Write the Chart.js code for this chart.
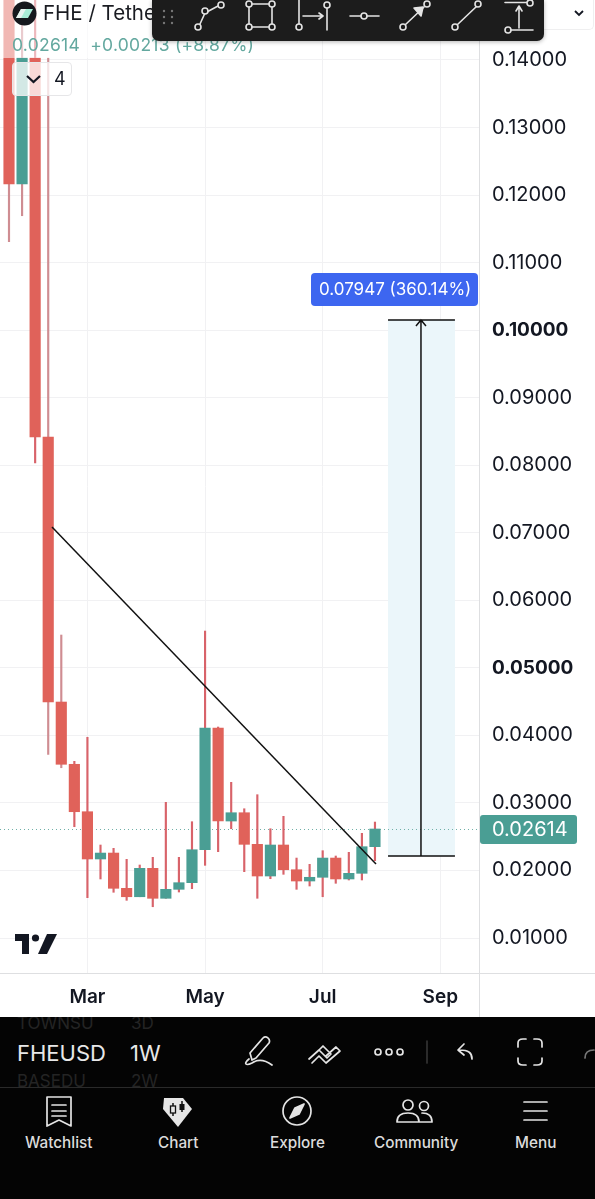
<!DOCTYPE html>
<html>
<head>
<meta charset="utf-8">
<script src="https://cdn.jsdelivr.net/npm/chart.js@4"></script>
<style>
html, body { margin: 0; padding: 0; background: #fff; font-family: Inter, sans-serif; overflow: hidden; }
#tela { position: relative; width: 595px; height: 1199px; overflow: hidden; }
#myChart { position: absolute; left: 0; top: 0; }
.box { position: absolute; }
.txt { position: absolute; white-space: nowrap; line-height: 1; }
svg { position: absolute; left: 0; top: 0; }
.ic { fill: none; stroke: #e4e4e4; stroke-width: 2; stroke-linecap: round; stroke-linejoin: round; }
</style>
</head>
<body>
<div id="tela">
  <canvas id="myChart" width="595" height="1017"></canvas>

  <!-- linhas dos eixos -->
  <div class="box" style="left:0;top:973px;width:595px;height:1px;background:#dedfe1"></div>
  <div class="box" style="left:479px;top:973px;width:1px;height:44px;background:#dedfe1"></div>

  <!-- legenda por cima do grafico -->
  <div class="box" style="left:0;top:0;width:152px;height:58px;background:rgba(255,255,255,.55)"></div>
  <div class="box" style="left:12px;top:62px;width:60px;height:34px;background:rgba(255,255,255,.76);border:1px solid #e6e6e8;border-radius:4px;box-sizing:border-box"></div>
  <div class="txt" style="left:43px;top:3px;font-size:20.500px;color:#1a1c22">FHE / Tether</div>
  <div class="txt" style="left:12px;top:36px;font-size:17.500px;letter-spacing:.25px;color:#63a89f">0.02614&nbsp; +0.00213 (+8.87%)</div>
  <div class="txt" style="left:54px;top:70px;font-size:18px;color:#131722">4</div>

  <div class="box" style="left:540px;top:0;width:54px;height:30px;border:1px solid #efeff0;border-top:0;border-left:0;border-radius:0 0 5px 0;box-sizing:border-box"></div>
  <div class="box" style="left:152px;top:0;width:392px;height:41px;background:#1c1c1c;border-radius:0 0 7px 7px;box-shadow:0 1px 4px rgba(0,0,0,.3)"></div>

  <svg width="595" height="1199">
    <!-- logo -->
    <circle cx="24.500" cy="13.500" r="12" fill="#15181d"/>
    <path d="M16 18 L21 9 H33 L28 18 Z" fill="#a8ecd6"/>
    <path d="M16 18 L21 9 H26 L21 18 Z" fill="#e8f3f0"/>
    <!-- seta da legenda -->
    <path d="M27 76 L33.500 82 L40 76" fill="none" stroke="#131722" stroke-width="2.200"/>
    <path d="M578 11 L582 15 L586 11" transform="translate(-3,0)" fill="none" stroke="#131722" stroke-width="1.800"/>
    <!-- barra de desenho -->
    <g fill="#777"><circle cx="164" cy="11" r="1.200"/><circle cx="172" cy="11" r="1.200"/><circle cx="164" cy="17" r="1.200"/><circle cx="172" cy="17" r="1.200"/><circle cx="164" cy="23" r="1.200"/><circle cx="172" cy="23" r="1.200"/></g>
    <g class="ic" style="stroke-width:1.600">
      <path d="M200 24 L205 13 L218 6"/><circle cx="198" cy="27" r="3" fill="#1c1c1c"/><circle cx="205" cy="11" r="3" fill="#1c1c1c"/><circle cx="221" cy="5" r="3" fill="#1c1c1c"/>
      <rect x="249" y="4" width="23" height="23"/><circle cx="249" cy="4" r="3" fill="#1c1c1c"/><circle cx="272" cy="4" r="3" fill="#1c1c1c"/><circle cx="249" cy="27" r="3" fill="#1c1c1c"/><circle cx="272" cy="27" r="3" fill="#1c1c1c"/>
      <path d="M299 0 V24 M327 8 V30 M303 16 H323 M319 13 L323 16 L319 19"/><circle cx="299" cy="27" r="3" fill="#1c1c1c"/><circle cx="327" cy="5" r="3" fill="#1c1c1c"/>
      <path d="M350 16 H379"/><circle cx="364" cy="16" r="3" fill="#1c1c1c"/>
      <path d="M405 25 L424 7"/><path d="M414 8 L423 7 L421 16 Z" fill="#e4e4e4"/><circle cx="403" cy="27" r="3" fill="#1c1c1c"/><circle cx="427" cy="4" r="3" fill="#1c1c1c"/>
      <path d="M457 25 L477 6"/><circle cx="455" cy="27" r="3" fill="#1c1c1c"/><circle cx="478" cy="4" r="3" fill="#1c1c1c"/>
      <path d="M505 2.500 H528 M510 30 H533 M519 28 V7 M516 11 L519 6 L522 11"/><circle cx="530" cy="3" r="3" fill="#1c1c1c"/><circle cx="508" cy="30" r="3" fill="#1c1c1c"/>
    </g>
    <!-- logo tradingview -->
    <path d="M15 934 H29 V954 H22 V941 H15 Z" fill="#131722"/>
    <circle cx="35.500" cy="938" r="3.600" fill="#131722"/>
    <path d="M47 934 H57 L47 954 H38 Z" fill="#131722"/>
  </svg>

  <!-- painel de baixo -->
  <div class="box" style="left:0;top:1017px;width:595px;height:182px;background:#040404"></div>
  <div class="box" style="left:0;top:1087px;width:595px;height:1px;background:#2a2a2a"></div>
  <div class="txt" style="left:17px;top:1015px;font-size:17px;color:#242424;clip-path:inset(2px 0 0 0)">TOWNSU</div>
  <div class="txt" style="left:131px;top:1015px;font-size:17px;color:#242424;clip-path:inset(2px 0 0 0)">3D</div>
  <div class="txt" style="left:17px;top:1042px;font-size:22px;color:#e8e8e8">FHEUSD</div>
  <div class="txt" style="left:130px;top:1042px;font-size:22px;color:#e8e8e8">1W</div>
  <div class="txt" style="left:17px;top:1073px;font-size:17px;color:#242424">BASEDU</div>
  <div class="txt" style="left:131px;top:1073px;font-size:17px;color:#242424">2W</div>

  <svg width="595" height="1199">
    <g class="ic" style="stroke-width:1.700">
      <!-- caneta -->
      <path d="M252 1060 L250 1053 L263 1038 C266 1035 271 1039 269 1043 L256 1058 Z M249 1059 C243 1064 246 1066 252 1063 C258 1059 265 1060 272 1065"/>
      <!-- linhas -->
      <path d="M309 1059 L319 1050 L327 1058 L331 1054 L323 1046 L319 1050 M312 1063 L319 1056 L326 1063 L340 1051 L336 1047 L326 1056"/>
      <circle cx="378" cy="1052" r="3"/><circle cx="389" cy="1052" r="3"/><circle cx="400" cy="1052" r="3"/>
      <path d="M427 1041 V1063" stroke="#333"/>
      <path d="M472 1059 C472 1053 469 1050 459 1050 M464 1044 L458 1050 L464 1055"/>
      <path d="M518 1047 V1043 C518 1040 520 1039 523 1039 H526 M534 1039 H537 C540 1039 542 1040 542 1043 V1047 M542 1058 V1061 C542 1064 540 1065 537 1065 H534 M526 1065 H523 C520 1065 518 1064 518 1061 V1058" />
      <path d="M585 1058 C585 1053 588 1050 594 1050" stroke="#777"/>
      <!-- watchlist -->
      <path d="M47 1097 H71 V1126 L59 1120 L47 1126 Z M52 1105 H66 M52 1111 H66 M52 1116 H66"/>
      <!-- explore -->
      <circle cx="297" cy="1111" r="14"/>
      <path d="M304 1104 L299 1114 L290 1118 L295 1108 Z" fill="#e4e4e4"/>
      <!-- community -->
      <circle cx="408" cy="1105" r="5"/><circle cx="424" cy="1106" r="4.500"/>
      <path d="M397 1122 C397 1115 402 1113 408 1113 C414 1113 419 1115 419 1122 Z M422 1113 C428 1113 432 1115 432 1122 H419"/>
      <!-- menu -->
      <path d="M524 1102 H547 M524 1111 H547 M524 1120 H547"/>
    </g>
    <!-- chart -->
    <path d="M164 1098 H183 L192 1109 L178 1127 L163 1109 Z" fill="#e6e6e6"/>
    <path d="M173 1103 V1116 M182 1101 V1112" stroke="#111" stroke-width="1.500"/>
    <rect x="170.500" y="1106" width="5" height="7" fill="#e6e6e6" stroke="#111" stroke-width="1.300"/>
    <rect x="179.500" y="1104" width="5" height="6" fill="#111"/>
  </svg>

  <div class="txt" style="left:25px;top:1135px;font-size:15.300px;font-weight:500;color:#dcdcdc">Watchlist</div>
  <div class="txt" style="left:158px;top:1135px;font-size:15.300px;font-weight:500;color:#dcdcdc">Chart</div>
  <div class="txt" style="left:270px;top:1135px;font-size:15.300px;font-weight:500;color:#dcdcdc">Explore</div>
  <div class="txt" style="left:374px;top:1135px;font-size:15.300px;font-weight:500;color:#dcdcdc">Community</div>
  <div class="txt" style="left:515px;top:1135px;font-size:15.300px;font-weight:500;color:#dcdcdc">Menu</div>
</div>

<script>
// candles semanais
const semanas = [0, 1, 2, 3, 4, 5, 6, 7, 8, 9, 10, 11, 12, 13, 14, 15, 16, 17, 18, 19, 20, 21, 22, 23, 24, 25, 26, 27, 28];
const abertura = [0.15500, 0.12164, 0.14029, 0.08418, 0.04494, 0.03572, 0.02870, 0.02170, 0.02258, 0.01736, 0.01611, 0.02032, 0.01588, 0.01721, 0.01819, 0.02307, 0.04109, 0.02732, 0.02855, 0.02387, 0.01918, 0.02377, 0.02011, 0.01844, 0.01899, 0.02184, 0.01874, 0.01958, 0.02352];
const fechamento = [0.12164, 0.14029, 0.08418, 0.04494, 0.03572, 0.02870, 0.02170, 0.02258, 0.01736, 0.01611, 0.02032, 0.01588, 0.01721, 0.01819, 0.02307, 0.04109, 0.02732, 0.02855, 0.02387, 0.01918, 0.02377, 0.02011, 0.01844, 0.01899, 0.02184, 0.01874, 0.01958, 0.02352, 0.02614];
const maximas = [0.16000, 0.14518, 0.15000, 0.14029, 0.05486, 0.03616, 0.03972, 0.02377, 0.02328, 0.02165, 0.02081, 0.02195, 0.03009, 0.02195, 0.02722, 0.05545, 0.04124, 0.03305, 0.02914, 0.03122, 0.02618, 0.02802, 0.02184, 0.02091, 0.02293, 0.02214, 0.02269, 0.02550, 0.02717];
const minimas = [0.11309, 0.11694, 0.08033, 0.03720, 0.03521, 0.02648, 0.01597, 0.01874, 0.01677, 0.01558, 0.01611, 0.01463, 0.01588, 0.01681, 0.01730, 0.02076, 0.02278, 0.02618, 0.01982, 0.01588, 0.01878, 0.01943, 0.01721, 0.01770, 0.01611, 0.01810, 0.01859, 0.01859, 0.02145];

const precosEixo = [0.01, 0.02, 0.03, 0.04, 0.05, 0.06, 0.07, 0.08, 0.09, 0.10, 0.11, 0.12, 0.13, 0.14];
const precosNegrito = [0.05, 0.10];
const mesesPos = [6, 15, 24, 33];
const mesesNomes = ['Mar', 'May', 'Jul', 'Sep'];

// linha de tendencia e ferramenta de medida
const tendenciaX = [3.29, 28.08];
const tendenciaY = [0.07085, 0.02096];
const medidaX = [29.0, 31.52, 34.12];
const medidaY = [0.02214, 0.10150];
const precoAtual = 0.02614;
const textoMedida = '0.07947 (360.14%)';

const VERMELHO = '#e0625a';
const VERDE = '#4a9e94';
const PAVIO = '#d8636a';
const PAVIO_CLARO = '#cf8d92';
const pavioClaro = [0, 1, 3, 4];

const ferramentas = {
    id: 'ferramentas',
    beforeDatasetsDraw(chart) {
        const { ctx, scales: { x, y }, chartArea } = chart;
        ctx.save();
        // caixa da medida
        ctx.fillStyle = '#ebf6fa';
        ctx.fillRect(x.getPixelForValue(medidaX[0]), y.getPixelForValue(medidaY[1]),
            x.getPixelForValue(medidaX[2]) - x.getPixelForValue(medidaX[0]),
            y.getPixelForValue(medidaY[0]) - y.getPixelForValue(medidaY[1]));
        // linha pontilhada do preco
        ctx.strokeStyle = '#6fb0a8';
        ctx.lineWidth = 1;
        ctx.setLineDash([1, 3]);
        const yp = Math.round(y.getPixelForValue(precoAtual)) + 0.5;
        ctx.beginPath();
        ctx.moveTo(chartArea.left, yp);
        ctx.lineTo(chartArea.right, yp);
        ctx.stroke();
        ctx.restore();
    },
    afterDraw(chart) {
        const { ctx, scales: { x, y } } = chart;
        const x0 = x.getPixelForValue(medidaX[0]);
        const xm = x.getPixelForValue(medidaX[1]);
        const x1 = x.getPixelForValue(medidaX[2]);
        const yTopo = y.getPixelForValue(medidaY[1]);
        const yBase = y.getPixelForValue(medidaY[0]);
        ctx.save();
        ctx.strokeStyle = '#111';
        ctx.lineWidth = 1.5;
        ctx.beginPath();
        ctx.moveTo(x0, yTopo); ctx.lineTo(x1, yTopo);
        ctx.moveTo(x0, yBase); ctx.lineTo(x1, yBase);
        ctx.moveTo(xm, yBase); ctx.lineTo(xm, yTopo);
        ctx.moveTo(xm - 5, yTopo + 6); ctx.lineTo(xm, yTopo); ctx.lineTo(xm + 5, yTopo + 6);
        ctx.stroke();

        // etiqueta azul
        ctx.fillStyle = '#3d66f0';
        ctx.beginPath();
        ctx.roundRect(311, yTopo - 47, 167, 33, 4);
        ctx.fill();
        ctx.fillStyle = '#fff';
        ctx.font = '17px Inter';
        ctx.textAlign = 'left';
        ctx.textBaseline = 'middle';
        ctx.fillText(textoMedida, 319, yTopo - 30);

        // etiqueta do preco atual
        const yp = y.getPixelForValue(precoAtual);
        ctx.fillStyle = VERDE;
        ctx.beginPath();
        ctx.roundRect(480, yp - 14, 97, 29, 3);
        ctx.fill();
        ctx.fillStyle = '#fff';
        ctx.font = '20px Inter';
        ctx.fillText(precoAtual.toFixed(5), 492, yp + 1);
        ctx.restore();
    }
};

new Chart(document.getElementById('myChart').getContext('2d'), {
    type: 'bar',
    data: {
        datasets: [
            {
                label: 'Tendencia',
                type: 'line',
                data: tendenciaX.map((v, i) => ({ x: v, y: tendenciaY[i] })),
                borderColor: '#111',
                borderWidth: 1.5,
                pointRadius: 0,
                order: 0
            },
            {
                label: 'Corpo',
                data: semanas.map((s, i) => ({ x: s, y: [abertura[i], fechamento[i]] })),
                backgroundColor: semanas.map((s, i) => fechamento[i] >= abertura[i] ? VERDE : VERMELHO),
                barThickness: 10.5,
                grouped: false,
                order: 1
            },
            {
                label: 'Pavio',
                data: semanas.map((s, i) => ({ x: s, y: [minimas[i], maximas[i]] })),
                backgroundColor: semanas.map((s, i) => pavioClaro.includes(i) ? PAVIO_CLARO : PAVIO),
                barThickness: 1.5,
                grouped: false,
                order: 2
            }
        ]
    },
    options: {
        responsive: false,
        animation: false,
        devicePixelRatio: 1,
        layout: { padding: 0 },
        plugins: { legend: { display: false }, title: { display: false }, tooltip: { enabled: false } },
        scales: {
            x: {
                type: 'linear',
                offset: false,
                min: -0.689,
                max: 35.96,
                afterBuildTicks(scale) { scale.ticks = mesesPos.map(v => ({ value: v })); },
                afterFit(scale) {
                    scale.height = 44;
                    scale.paddingLeft = 0;
                    scale.paddingRight = 0;
                },
                grid: { color: '#f1f1f3', drawTicks: false, offset: false },
                border: { display: false },
                ticks: {
                    autoSkip: false,
                    maxRotation: 0,
                    padding: 13,
                    color: '#131722',
                    font: { family: 'Inter', size: 19, weight: '600' },
                    callback: value => mesesNomes[mesesPos.indexOf(value)]
                }
            },
            y: {
                position: 'right',
                min: 0.00482,
                max: 0.14888,
                afterBuildTicks(scale) { scale.ticks = precosEixo.map(v => ({ value: v })); },
                afterFit(scale) {
                    scale.width = 116;
                    scale.paddingTop = 0;
                    scale.paddingBottom = 0;
                },
                grid: { color: '#f1f1f3', drawTicks: false },
                border: { display: true, color: '#dedfe1' },
                ticks: {
                    autoSkip: false,
                    padding: 13,
                    color: '#131722',
                    font: ctx => {
                        const negrito = ctx.tick && precosNegrito.includes(ctx.tick.value);
                        return { family: 'Inter', size: negrito ? 19 : 20, weight: negrito ? '700' : '400' };
                    },
                    callback: value => value.toFixed(5)
                }
            }
        }
    },
    plugins: [ferramentas]
});
</script>
</body>
</html>
